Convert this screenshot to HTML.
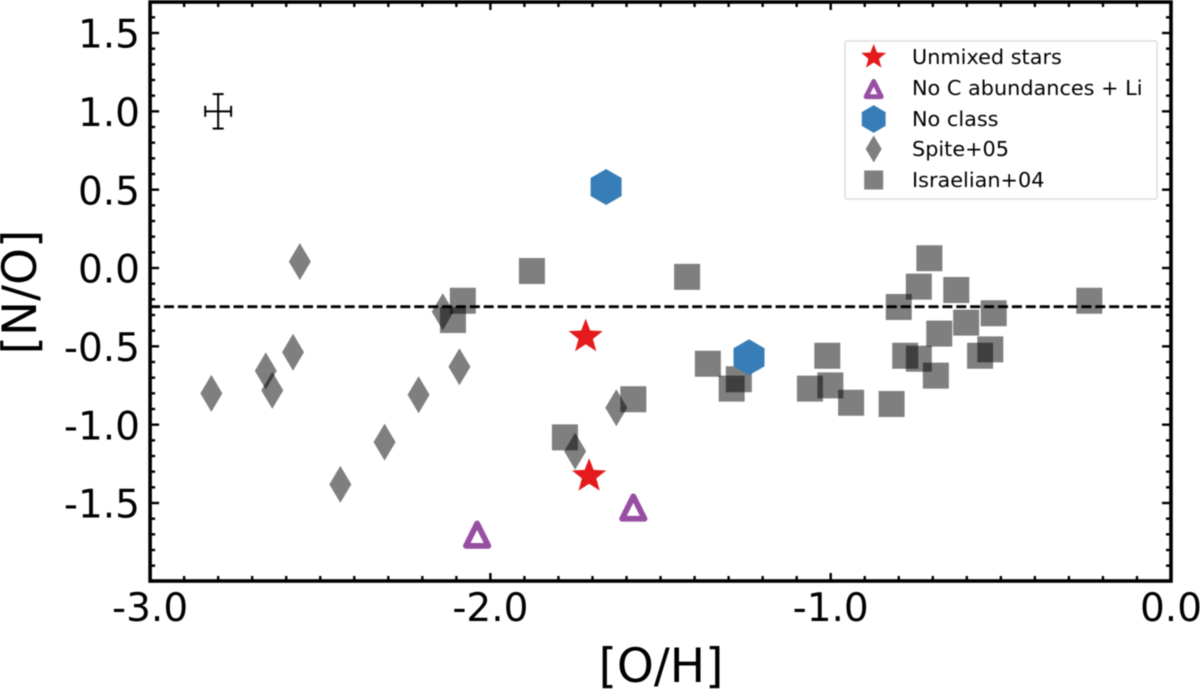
<!DOCTYPE html>
<html>
<head>
<meta charset="utf-8">
<style>
html,body{margin:0;padding:0;background:#fff;}
svg{display:block;filter:blur(0.45px);}
text{font-family:"DejaVu Sans","Liberation Sans",sans-serif;fill:#000;}
</style>
</head>
<body>
<svg id="chart" width="1200" height="689" viewBox="0 0 1200 689" xmlns="http://www.w3.org/2000/svg"></svg>
<script>
const xTicks = [-3, -2, -1, 0];
const xTickLabels = ['-3.0', '-2.0', '-1.0', '0.0'];
const yTicks = [1.5, 1, 0.5, 0, -0.5, -1, -1.5];
const yTickLabels = ['1.5', '1.0', '0.5', '0.0', '-0.5', '-1.0', '-1.5'];
const referenceLevel = -0.247;
const errorPointX = -2.80;
const errorPointY = 1.0;
const errorX = 0.038;
const errorY = 0.11;
const israelianX = [-0.710,-0.741,-0.631,-0.800,-0.521,-0.240,-0.602,-0.681,-0.781,-0.741,-0.691,-0.561,-0.531,-0.821,-0.940,-1.010,-1.061,-1.001,-1.361,-1.270,-1.291,-1.580,-1.781,-2.081,-2.110,-1.878,-1.422];
const israelianY = [0.062,-0.119,-0.140,-0.249,-0.289,-0.209,-0.349,-0.419,-0.560,-0.579,-0.687,-0.560,-0.519,-0.868,-0.860,-0.560,-0.770,-0.749,-0.611,-0.710,-0.770,-0.838,-1.081,-0.209,-0.332,-0.019,-0.057];
const spiteX = [-2.560,-2.140,-2.580,-2.091,-2.660,-2.641,-2.820,-2.211,-2.311,-2.441,-1.630,-1.751];
const spiteY = [0.041,-0.279,-0.538,-0.630,-0.657,-0.781,-0.800,-0.809,-1.111,-1.381,-0.892,-1.170];
const unmixedX = [-1.720,-1.710];
const unmixedY = [-0.438,-1.328];
const noCarbonX = [-1.580,-2.039];
const noCarbonY = [-1.538,-1.711];
const noClassX = [-1.240,-1.660];
const noClassY = [-0.570,0.517];

const svg = document.getElementById('chart');
const NS = 'http://www.w3.org/2000/svg';
const sx = v => 1171 + 340.3 * v;
const sy = v => 33 + (1.5 - v) * 156.67;
const plotL = sx(-3), plotR = sx(0), plotT = 2, plotB = 581;

function mk(tag, attrs, parent) {
  const el = document.createElementNS(NS, tag);
  for (const k in attrs) el.setAttribute(k, attrs[k]);
  (parent || svg).appendChild(el);
  return el;
}
function seg(x1, y1, x2, y2, w, parent) {
  return mk('line', {x1, y1, x2, y2, stroke: '#000', 'stroke-width': w}, parent);
}
function squarePts(cx, cy, s = 1) { const r = 13 * s; return `${cx-r},${cy-r} ${cx+r},${cy-r} ${cx+r},${cy+r} ${cx-r},${cy+r}`; }
function diamondPts(cx, cy, s = 1) { const a = 11 * s, b = 18.5 * s; return `${cx},${cy-b} ${cx+a},${cy} ${cx},${cy+b} ${cx-a},${cy}`; }
function hexPts(cx, cy, s = 1) { const a = 15.5 * s, b = 18 * s, c = 9 * s; return `${cx},${cy-b} ${cx+a},${cy-c} ${cx+a},${cy+c} ${cx},${cy+b} ${cx-a},${cy+c} ${cx-a},${cy-c}`; }
function trianglePts(cx, cy, s = 1) { return `${cx},${cy-12.6*s} ${cx+11.2*s},${cy+9.8*s} ${cx-11.2*s},${cy+9.8*s}`; }
function starPts(cx, cy, s = 1) {
  const pts = [];
  for (let i = 0; i < 10; i++) {
    const r = (i % 2 ? 7.6 : 18) * s;
    const a = -Math.PI / 2 + i * Math.PI / 5;
    pts.push((cx + r * Math.cos(a)).toFixed(1) + ',' + (cy + r * Math.sin(a)).toFixed(1));
  }
  return pts.join(' ');
}

/* minor + major ticks */
const ticksGroup = mk('g', {});


for (let i = 1; i < 30; i++) {
  const x = plotL + (plotR - plotL) * i / 30;
  const len = i % 10 === 0 ? 8 : 5;
  seg(x, plotB, x, plotB - len, 2.4, ticksGroup);
  seg(x, plotT, x, plotT + len, 2.4, ticksGroup);
}
for (let i = -19; i <= 16; i++) {
  const y = sy(i / 10);
  const len = i % 5 === 0 ? 9 : 5;
  seg(plotL, y, plotL + len, y, 2.4, ticksGroup);
  seg(plotR, y, plotR - len, y, 2.4, ticksGroup);
}

/* tick labels */
xTicks.forEach((v, i) => {
  const t = mk('text', {x: sx(v), y: 621, 'font-size': 39, 'text-anchor': 'middle'});
  t.textContent = xTickLabels[i];
  
  
});
yTicks.forEach((v, i) => {
  const t = mk('text', {x: 140, y: sy(v) + 14.6, 'font-size': 39, 'text-anchor': 'end'});
  t.textContent = yTickLabels[i];
  
  
});

/* axis titles */
const xTitle = mk('text', {x: 661, y: 682, 'font-size': 47, 'text-anchor': 'middle'});
xTitle.textContent = '[O/H]';


const yTitle = mk('text', {x: 0, y: 0, 'font-size': 47, 'text-anchor': 'middle', transform: 'translate(36,292) rotate(-90)'});
yTitle.textContent = '[N/O]';



/* error bar sample */
const err = mk('g', {});


const ex = sx(errorPointX), ey = sy(errorPointY);
const edx = errorX * 340.3, edy = errorY * 156.67;
seg(ex - edx, ey, ex + edx, ey, 2, err);
seg(ex, ey - edy, ex, ey + edy, 2, err);
seg(ex - edx, ey - 5.5, ex - edx, ey + 5.5, 2, err);
seg(ex + edx, ey - 5.5, ex + edx, ey + 5.5, 2, err);
seg(ex - 5.5, ey - edy, ex + 5.5, ey - edy, 2, err);
seg(ex - 5.5, ey + edy, ex + 5.5, ey + edy, 2, err);

/* Israelian+04 squares */
israelianX.forEach((v, i) => {
  const p = mk('polygon', {points: squarePts(sx(v), sy(israelianY[i])), fill: '#000', 'fill-opacity': 0.5});
  
  
});
/* Spite+05 diamonds */
spiteX.forEach((v, i) => {
  const p = mk('polygon', {points: diamondPts(sx(v), sy(spiteY[i])), fill: '#000', 'fill-opacity': 0.5});
  
  
});

/* reference line */
const ref = mk('line', {x1: plotL, x2: plotR, y1: sy(referenceLevel), y2: sy(referenceLevel), stroke: '#000', 'stroke-width': 2.8, 'stroke-dasharray': '10 3.9'});



/* No class hexagons */
noClassX.forEach((v, i) => {
  const p = mk('polygon', {points: hexPts(sx(v), sy(noClassY[i])), fill: '#377eb8'});
  
  
});
/* No C abundances triangles */
noCarbonX.forEach((v, i) => {
  const p = mk('polygon', {points: trianglePts(sx(v), sy(noCarbonY[i])), fill: 'none', stroke: '#984ea3', 'stroke-width': 5.8, 'stroke-linejoin': 'round'});
  
  
});
/* Unmixed stars */
unmixedX.forEach((v, i) => {
  const p = mk('polygon', {points: starPts(sx(v), sy(unmixedY[i])), fill: '#e41a1c'});
  
  
});

/* spines */
const frame = mk('rect', {x: plotL, y: plotT, width: plotR - plotL, height: plotB - plotT, fill: 'none', stroke: '#000', 'stroke-width': 3.6});



/* legend */
const legend = mk('g', {});


mk('rect', {x: 845, y: 41, width: 312, height: 158, rx: 2, fill: '#fff', 'fill-opacity': 0.9, stroke: '#ddd', 'stroke-width': 1.5}, legend);
const lx = 873.7;
const legendRows = [
  ['Unmixed stars', 57, 'legend-entry-unmixed-stars'],
  ['No C abundances + Li', 88, 'legend-entry-no-c-abundances'],
  ['No class', 119, 'legend-entry-no-class'],
  ['Spite+05', 149, 'legend-entry-spite'],
  ['Israelian+04', 180, 'legend-entry-israelian']
];
mk('polygon', {points: starPts(lx, 57, 0.73), fill: '#e41a1c'}, legend);
mk('polygon', {points: trianglePts(lx, 90, 0.68), fill: 'none', stroke: '#984ea3', 'stroke-width': 4.8, 'stroke-linejoin': 'round'}, legend);
mk('polygon', {points: hexPts(lx, 119, 0.77), fill: '#377eb8'}, legend);
mk('polygon', {points: diamondPts(lx, 149, 0.73), fill: '#000', 'fill-opacity': 0.5}, legend);
mk('polygon', {points: squarePts(lx, 180, 0.73), fill: '#000', 'fill-opacity': 0.5}, legend);
legendRows.forEach(row => {
  const t = mk('text', {x: 912, y: row[1] + 7, 'font-size': 20.8}, legend);
  t.textContent = row[0];
  
  
});
</script>
</body>
</html>
